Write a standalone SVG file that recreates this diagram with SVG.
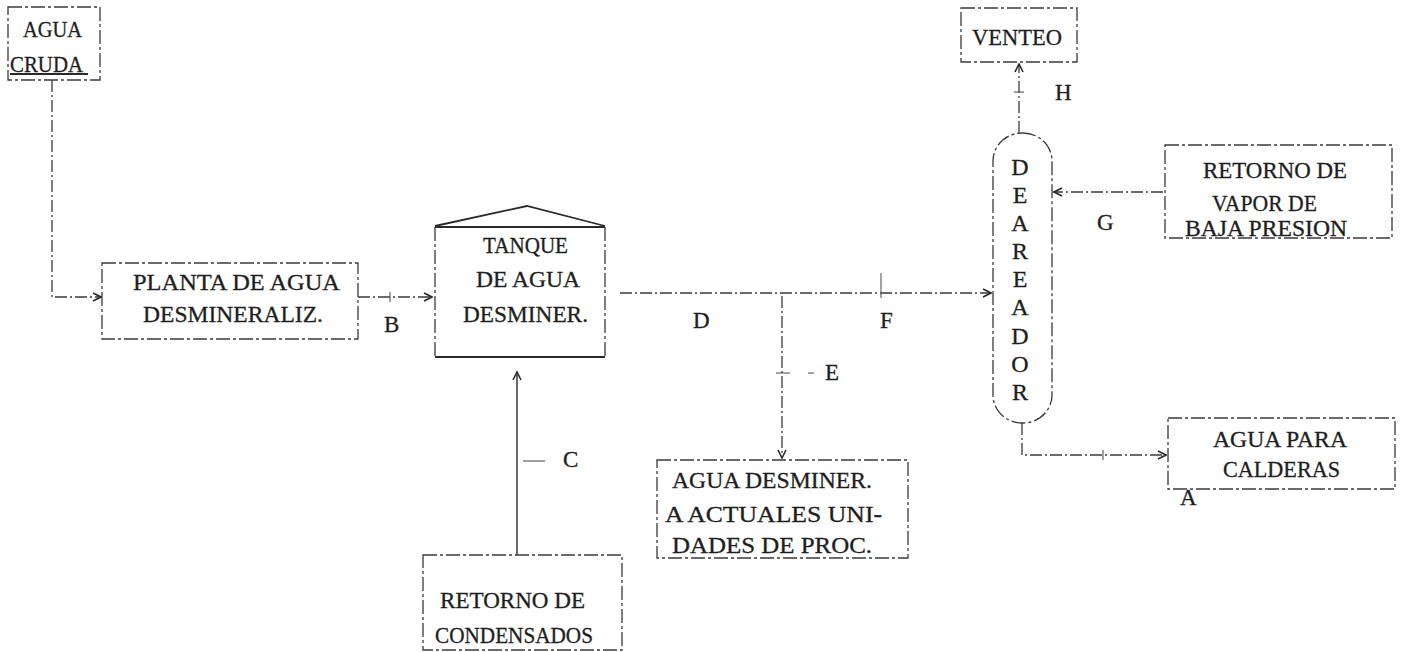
<svg xmlns="http://www.w3.org/2000/svg" width="1405" height="652" viewBox="0 0 1405 652">
<defs>
<style>
.box{fill:none;stroke:#3a3a3a;stroke-width:1.3;stroke-dasharray:14 3 3 3}
.solid{fill:none;stroke:#2a2a2a;stroke-width:1.8}
.conn{fill:none;stroke:#3a3a3a;stroke-width:1.3;stroke-dasharray:12 3 2 3}
.csolid{fill:none;stroke:#3a3a3a;stroke-width:1.5}
.tick{fill:none;stroke:#555;stroke-width:1.1}
text{font-family:"Liberation Serif","DejaVu Serif",serif;font-size:24px;fill:#1e1e1e;stroke:#1e1e1e;stroke-width:0.3}
.mid{text-anchor:middle}
.lbl{font-size:23px}
.tight{font-size:23px}
</style>
<marker id="arr" viewBox="0 0 10 10" refX="9" refY="5" markerWidth="10" markerHeight="10" markerUnits="userSpaceOnUse" orient="auto">
<path d="M1,1 L9,5 L1,9" fill="none" stroke="#2a2a2a" stroke-width="1.6"/>
</marker>
</defs>
<rect width="1405" height="652" fill="#ffffff"/>

<g id="agua-cruda">
<rect class="box" x="8" y="7" width="92" height="73"/>
<text x="23" y="37" textLength="59" lengthAdjust="spacingAndGlyphs">AGUA</text>
<text x="10" y="72" textLength="73" lengthAdjust="spacingAndGlyphs">CRUDA</text>
<line class="solid" x1="10" y1="74" x2="88" y2="74"/>
</g>

<g id="planta">
<rect class="box" x="102" y="263" width="256" height="76"/>
<text x="133" y="290" textLength="207" lengthAdjust="spacingAndGlyphs">PLANTA DE AGUA</text>
<text x="143" y="322" textLength="180" lengthAdjust="spacingAndGlyphs">DESMINERALIZ.</text>
</g>

<g id="tanque">
<polyline class="solid" points="435,226 527,206 605,226" stroke-width="1.6"/>
<line class="solid" x1="435" y1="227" x2="605" y2="227" stroke-width="2.2"/>
<line class="box" x1="435" y1="227" x2="435" y2="357"/>
<line class="box" x1="605" y1="227" x2="605" y2="357"/>
<line class="solid" x1="435" y1="357" x2="605" y2="357"/>
<text x="483" y="253" textLength="85" lengthAdjust="spacingAndGlyphs">TANQUE</text>
<text x="476" y="287" textLength="104" lengthAdjust="spacingAndGlyphs">DE AGUA</text>
<text x="463" y="322" textLength="125" lengthAdjust="spacingAndGlyphs">DESMINER.</text>
</g>

<g id="condensados">
<rect class="box" x="423" y="555" width="199" height="95"/>
<text x="440" y="608" textLength="145" lengthAdjust="spacingAndGlyphs">RETORNO DE</text>
<text x="435" y="643" textLength="158" lengthAdjust="spacingAndGlyphs">CONDENSADOS</text>
</g>

<g id="agua-desminer">
<rect class="box" x="657" y="460" width="251" height="98"/>
<text x="672" y="488" textLength="200" lengthAdjust="spacingAndGlyphs">AGUA DESMINER.</text>
<text x="665" y="522" textLength="217" lengthAdjust="spacingAndGlyphs">A ACTUALES UNI-</text>
<text x="672" y="553" textLength="200" lengthAdjust="spacingAndGlyphs">DADES DE PROC.</text>
</g>

<g id="venteo">
<rect class="box" x="961" y="8" width="116" height="54"/>
<text x="972" y="45" textLength="90" lengthAdjust="spacingAndGlyphs">VENTEO</text>
</g>

<g id="deareador">
<rect class="box" x="993" y="133" width="59" height="290" rx="29" ry="28"/>
<text class="mid" x="1020" y="175">D</text>
<text class="mid" x="1020" y="203">E</text>
<text class="mid" x="1020" y="231">A</text>
<text class="mid" x="1020" y="259">R</text>
<text class="mid" x="1020" y="287">E</text>
<text class="mid" x="1020" y="315">A</text>
<text class="mid" x="1020" y="344">D</text>
<text class="mid" x="1020" y="372">O</text>
<text class="mid" x="1020" y="400">R</text>
</g>

<g id="retorno-vapor">
<rect class="box" x="1165" y="145" width="227" height="93"/>
<text x="1203" y="178" textLength="144" lengthAdjust="spacingAndGlyphs">RETORNO DE</text>
<text class="tight" x="1212" y="211" textLength="105" lengthAdjust="spacingAndGlyphs">VAPOR DE</text>
<text class="tight" x="1185" y="236" textLength="162" lengthAdjust="spacingAndGlyphs">BAJA PRESION</text>
</g>

<g id="agua-calderas">
<rect class="box" x="1168" y="418" width="227" height="71"/>
<text x="1213" y="447" textLength="134" lengthAdjust="spacingAndGlyphs">AGUA PARA</text>
<text x="1223" y="477" textLength="117" lengthAdjust="spacingAndGlyphs">CALDERAS</text>
</g>

<g id="connectors">
<path class="conn" d="M52,80 V297 H101" marker-end="url(#arr)"/>
<path class="conn" d="M358,297 H432" marker-end="url(#arr)"/>
<path class="csolid" d="M517,555 V372" marker-end="url(#arr)"/>
<path class="conn" d="M620,293 H991" marker-end="url(#arr)"/>
<path class="conn" d="M782,296 V458" marker-end="url(#arr)"/>
<path class="conn" d="M1163,192 H1054" marker-end="url(#arr)"/>
<path class="conn" d="M1019,133 V64" marker-end="url(#arr)"/>
<path class="conn" d="M1022,423 V455 H1166" marker-end="url(#arr)"/>
<line class="tick" x1="390" y1="292" x2="390" y2="302"/>
<line class="tick" x1="881" y1="273" x2="881" y2="298"/>
<line class="tick" x1="776" y1="373" x2="790" y2="373"/>
<line class="tick" x1="808" y1="373" x2="814" y2="373"/>
<line class="tick" x1="523" y1="461" x2="545" y2="461"/>
<line class="tick" x1="1103" y1="450" x2="1103" y2="460"/>
<line class="tick" x1="1014" y1="92" x2="1024" y2="92"/>
<text class="lbl" x="384" y="332">B</text>
<text class="lbl" x="563" y="467">C</text>
<text class="lbl" x="693" y="328">D</text>
<text class="lbl" x="825" y="380">E</text>
<text class="lbl" x="880" y="328">F</text>
<text class="lbl" x="1097" y="230">G</text>
<text class="lbl" x="1055" y="100">H</text>
<text class="lbl" x="1180" y="505">A</text>
</g>
</svg>
